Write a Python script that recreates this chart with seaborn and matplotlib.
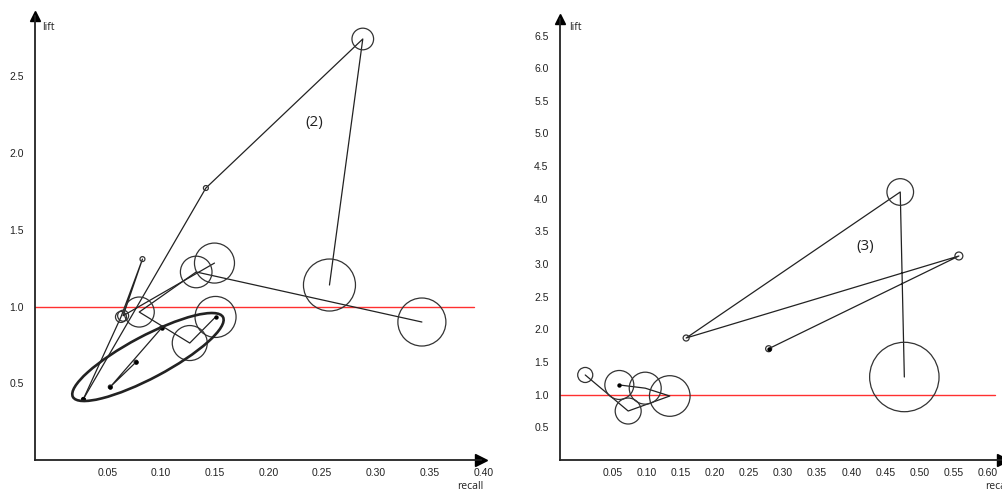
import matplotlib
matplotlib.use("Agg")
import matplotlib.pyplot as plt
import numpy as np
import pandas as pd
import seaborn as sns
from matplotlib.patches import Ellipse
from matplotlib.transforms import ScaledTranslation

sns.set_theme(style="white")
plt.rcParams["font.family"] = ["Liberation Sans", "DejaVu Sans"]

# ---- panel (2): rule trajectories in recall / lift space ----
rule2 = ["A", "A", "A", "A",
         "B", "B", "B", "B", "B",
         "C", "C", "C", "C", "C",
         "D", "D", "D"]
recall2 = [0.045, 0.159, 0.305, 0.274,
           0.045, 0.080, 0.100, 0.082, 0.167,
           0.168, 0.144, 0.097, 0.150, 0.360,
           0.118, 0.070, 0.094]
lift2 = [0.397, 1.772, 2.743, 1.140,
         0.397, 0.932, 1.309, 0.940, 1.283,
         0.932, 0.762, 0.964, 1.225, 0.899,
         0.862, 0.476, 0.638]
support2 = [0.0002, 0.0005, 0.0097, 0.0561,
            0.0002, 0.0025, 0.0005, 0.0025, 0.0332,
            0.0349, 0.0254, 0.0187, 0.0207, 0.0478,
            0.0003, 0.0003, 0.0003]
first2 = [1, 0, 0, 0,
          1, 0, 0, 0, 0,
          1, 0, 0, 0, 0,
          1, 1, 1]

# ---- panel (3) ----
rule3 = ["E", "E", "E", "E", "E",
         "F", "F", "F", "F", "F"]
recall3 = [0.306, 0.585, 0.185, 0.499, 0.505,
           0.087, 0.125, 0.161, 0.100, 0.037]
lift3 = [1.704, 3.124, 1.868, 4.104, 1.271,
         1.149, 1.100, 0.980, 0.750, 1.302]
support3 = [0.00075, 0.0013, 0.00075, 0.0147, 0.0999,
            0.0174, 0.0212, 0.0342, 0.0140, 0.0047]
first3 = [1, 0, 0, 0, 0,
          1, 0, 0, 0, 0]

xticks2 = [0.05, 0.10, 0.15, 0.20, 0.25, 0.30, 0.35, 0.40]
yticks2 = [0.5, 1.0, 1.5, 2.0, 2.5]
xticks3 = [0.05, 0.10, 0.15, 0.20, 0.25, 0.30, 0.35, 0.40, 0.45, 0.50, 0.55, 0.60]
yticks3 = [0.5, 1.0, 1.5, 2.0, 2.5, 3.0, 3.5, 4.0, 4.5, 5.0, 5.5, 6.0, 6.5]

# highlighted cluster in panel (2): centre in data units
cluster_centre = (0.1051, 0.671)

INK = "#222222"
AREA_PER_SUPPORT = 25000  # marker area (pt^2) per unit of support

fig = plt.figure(figsize=(10.02, 4.93), dpi=100)
ax2 = fig.add_axes([35 / 1002, 33 / 493, 446 / 1002, 444.5 / 493])
ax3 = fig.add_axes([560 / 1002, 33 / 493, 443 / 1002, 441 / 493])


def draw_panel(ax, df, xmax, ymax, xticks, yticks, red_frac):
    ax.set_xlim(0, xmax)
    ax.set_ylim(0, ymax)
    # baseline lift = 1
    ax.axhline(1.0, xmin=0, xmax=red_frac, color="#ff3030", lw=1.0, zorder=1)
    # trajectories
    sns.lineplot(data=df, x="recall", y="lift", units="rule", estimator=None,
                 sort=False, color=INK, lw=0.9, ax=ax, legend=False, zorder=2)
    # support circles
    big = df[df["first"] == 0]
    sns.scatterplot(data=df, x="recall", y="lift", size="support",
                    sizes=(0, AREA_PER_SUPPORT), size_norm=(0, 1),
                    facecolor="none", edgecolor="#333333", linewidth=0.9,
                    legend=False, ax=ax, zorder=3)
    # first point of each trajectory
    sns.scatterplot(data=df[df["first"] == 1], x="recall", y="lift",
                    color="black", s=10, linewidth=0, legend=False, ax=ax,
                    zorder=4)

    for side in ("top", "right"):
        ax.spines[side].set_visible(False)
    for side in ("left", "bottom"):
        ax.spines[side].set_color(INK)
        ax.spines[side].set_linewidth(1.3)
    ax.plot(1, 0, ">", color="black", ms=8, transform=ax.transAxes, clip_on=False)
    ax.plot(0, 1, "^", color="black", ms=7, transform=ax.transAxes, clip_on=False)

    ax.set_xticks([0] + xticks)
    ax.set_xticklabels([""] + [f"{v:.2f}" for v in xticks])
    ax.set_yticks([0] + yticks)
    ax.set_yticklabels([""] + [f"{v:.1f}" for v in yticks])
    ax.tick_params(axis="both", direction="inout", length=6.5, width=1.0,
                   color=INK, labelsize=7.5, labelcolor=INK)
    ax.tick_params(axis="x", pad=3.5, length=5)
    ax.tick_params(axis="y", pad=5)
    shift = ScaledTranslation(0.185, 0, fig.dpi_scale_trans)
    for lab in ax.get_xticklabels():
        lab.set_transform(lab.get_transform() + shift)
    ax.set_xlabel("")
    ax.set_ylabel("")
    ax.grid(False)


df2 = pd.DataFrame({"rule": rule2, "recall": recall2, "lift": lift2,
                    "support": support2, "first": first2})
df3 = pd.DataFrame({"rule": rule3, "recall": recall3, "lift": lift3,
                    "support": support3, "first": first3})

draw_panel(ax2, df2, 0.415, 2.896, xticks2, yticks2, 0.984)
draw_panel(ax3, df3, 0.6497, 6.753, xticks3, yticks3, 0.982)

# ring around the low-lift cluster
ring = Ellipse((0, 0), width=1.70, height=0.42, angle=28, fill=False,
               lw=1.9, edgecolor=INK, zorder=5,
               transform=fig.dpi_scale_trans
               + ScaledTranslation(*cluster_centre, ax2.transData))
ax2.add_artist(ring)

label_font = ["Open Sans", "DejaVu Sans"]
for ax, dx, dy in ((ax2, 4.8, -8.7), (ax3, 6.5, -6.2)):
    ax.annotate("lift", xy=(0, 1), xycoords="axes fraction", xytext=(dx, dy),
                textcoords="offset points", ha="left", va="center",
                fontsize=7.5, color=INK, family=label_font)
ax2.annotate("recall", xy=(1, 0), xycoords="axes fraction", xytext=(1.5, -19),
             textcoords="offset points", ha="right", va="center",
             fontsize=7.5, color=INK, family=label_font)
ax3.annotate("recall", xy=(1, 0), xycoords="axes fraction", xytext=(-13, -19),
             textcoords="offset points", ha="left", va="center",
             fontsize=7.5, color=INK, family=label_font)

ax2.text(0.2595, 2.202, "(2)", ha="center", va="center", fontsize=11,
         color=INK, family=label_font)
ax3.text(0.447, 3.262, "(3)", ha="center", va="center", fontsize=11,
         color=INK, family=label_font)

fig.savefig("out.png", dpi=100)
